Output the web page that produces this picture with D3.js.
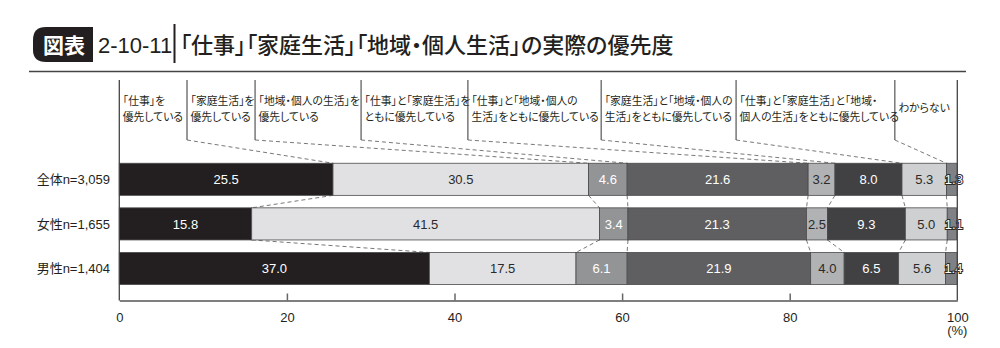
<!DOCTYPE html>
<html>
<head>
<meta charset="utf-8">
<script src="https://cdn.jsdelivr.net/npm/d3@7"></script>
<style>
  body { margin: 0; background: #fff; }
  svg { display: block; font-family: "Liberation Sans", "Noto Sans CJK JP", sans-serif; }
  .jp { font-family: "Noto Sans CJK JP", sans-serif; font-feature-settings: "palt"; }
</style>
</head>
<body>
<svg id="chart" width="1000" height="348"></svg>
<script>
// Respondent groups (rows)
const rows = ["全体n=3,059", "女性n=1,655", "男性n=1,404"];

// Answer categories, stacked left to right
const categories = [
  "「仕事」を優先している",
  "「家庭生活」を優先している",
  "「地域・個人の生活」を優先している",
  "「仕事」と「家庭生活」をともに優先している",
  "「仕事」と「地域・個人の生活」をともに優先している",
  "「家庭生活」と「地域・個人の生活」をともに優先している",
  "「仕事」と「家庭生活」と「地域・個人の生活」をともに優先している",
  "わからない"
];

// Header text, split over lines as printed
const categoryLines = [
  ["「仕事」を", "優先している"],
  ["「家庭生活」を", "優先している"],
  ["「地域・個人の生活」を", "優先している"],
  ["「仕事」と「家庭生活」を", "ともに優先している"],
  ["「仕事」と「地域・個人の", "生活」をともに優先している"],
  ["「家庭生活」と「地域・個人の", "生活」をともに優先している"],
  ["「仕事」と「家庭生活」と「地域・", "個人の生活」をともに優先している"],
  ["わからない"]
];

// Shares (%) per group, in category order
const valuesAll   = [25.5, 30.5, 4.6, 21.6, 3.2, 8.0, 5.3, 1.3];
const valuesWomen = [15.8, 41.5, 3.4, 21.3, 2.5, 9.3, 5.0, 1.1];
const valuesMen   = [37.0, 17.5, 6.1, 21.9, 4.0, 6.5, 5.6, 1.4];

// Axis ticks
const tickValues = [0, 20, 40, 60, 80, 100];

// ---- layout & style ----
const fills = ["#231f20", "#e1e1e3", "#939496", "#5f5f62", "#b1b2b4", "#414143", "#cfd0d2", "#808184"];
const labelStyle = ["white", "dark", "white", "white", "dark", "white", "dark", "outline"];
// left edges of the header boxes, in axis units (%)
const headerEdges = [0, 8.08, 16.2, 28.85, 41.6, 57.5, 73.6, 92.55, 100];

const svg = d3.select("#chart");

const x = d3.scaleLinear().domain([0, 100]).range([119.3, 957.3]);
const y = d3.scaleBand().domain(rows).range([157, 290.8]).paddingInner(0.28).paddingOuter(0.14);

const table = [valuesAll, valuesWomen, valuesMen].map((vals, i) => {
  let acc = 0;
  return {
    row: rows[i],
    segs: vals.map((v, j) => {
      const s = { cat: categories[j], idx: j, v, x0: acc, x1: acc + v };
      acc += v;
      return s;
    })
  };
});

// ---- title ----
const title = svg.append("g");
title.append("path")
  .attr("d", "M93,27 L46,27 Q33,27 33,40 L33,50 Q33,62 46,62 L93,62 Z")
  .attr("fill", "#231f20");
title.append("text").attr("class", "jp")
  .attr("x", 64).attr("y", 53).attr("text-anchor", "middle")
  .attr("fill", "#fff").attr("font-size", 21).attr("font-weight", 700)
  .text("図表");
title.append("text")
  .attr("x", 98).attr("y", 53)
  .attr("font-family", "'Liberation Sans Narrow', 'Liberation Sans', sans-serif")
  .attr("font-size", 22).attr("fill", "#231f20")
  .text("2-10-11");
title.append("line")
  .attr("x1", 174.5).attr("x2", 174.5).attr("y1", 24).attr("y2", 63)
  .attr("stroke", "#231f20").attr("stroke-width", 2);
title.append("text").attr("class", "jp")
  .attr("x", 180).attr("y", 53)
  .attr("font-size", 22).attr("fill", "#231f20").attr("font-weight", 500)
  .text("「仕事」「家庭生活」「地域・個人生活」の実際の優先度");
title.append("line")
  .attr("x1", 29).attr("x2", 966).attr("y1", 71.5).attr("y2", 71.5)
  .attr("stroke", "#444").attr("stroke-width", 1.5);

// ---- header boxes ----
const hdrTop = 80, hdrBottom = 140;
const header = svg.append("g");
header.selectAll("line.sep")
  .data(headerEdges.slice(1, -1))
  .join("line").attr("class", "sep")
  .attr("x1", d => x(d)).attr("x2", d => x(d))
  .attr("y1", hdrTop).attr("y2", hdrBottom)
  .attr("stroke", "#333").attr("stroke-width", 1);

header.selectAll("text.hdr")
  .data(categoryLines)
  .join("text").attr("class", "hdr jp")
  .attr("font-size", 10.8).attr("fill", "#231f20")
  .each(function (lines, i) {
    const t = d3.select(this);
    const x0 = x(headerEdges[i]) + 3.5;
    const baseY = lines.length === 1 ? 112 : 104.5;
    lines.forEach((ln, k) => {
      t.append("tspan").attr("x", x0).attr("y", baseY + k * 16.5).text(ln);
    });
  });

// leader lines from header boxes to the first row
const firstRow = table[0];
header.selectAll("line.leader")
  .data(firstRow.segs.slice(0, -1))
  .join("line").attr("class", "leader")
  .attr("x1", (d, i) => x(headerEdges[i + 1])).attr("y1", hdrBottom)
  .attr("x2", d => x(d.x1)).attr("y2", y(rows[0]))
  .attr("stroke", "#555").attr("stroke-width", 0.8).attr("stroke-dasharray", "4,3");

// connectors between consecutive rows
const conn = svg.append("g");
for (let r = 0; r < table.length - 1; r++) {
  const a = table[r], b = table[r + 1];
  conn.selectAll(null)
    .data(a.segs.slice(0, -1))
    .join("line")
    .attr("x1", d => x(d.x1)).attr("y1", y(a.row) + y.bandwidth())
    .attr("x2", (d, i) => x(b.segs[i].x1)).attr("y2", y(b.row))
    .attr("stroke", "#555").attr("stroke-width", 0.8).attr("stroke-dasharray", "4,3");
}

// ---- bars ----
const rowG = svg.append("g").selectAll("g.row")
  .data(table).join("g").attr("class", "row")
  .attr("transform", d => `translate(0,${y(d.row)})`);

rowG.selectAll("rect")
  .data(d => d.segs)
  .join("rect")
  .attr("x", d => x(d.x0))
  .attr("width", d => x(d.x1) - x(d.x0))
  .attr("y", 0).attr("height", y.bandwidth())
  .attr("fill", d => fills[d.idx])
  .attr("stroke", "#4a4a4c").attr("stroke-width", 0.8);

rowG.selectAll("text.val")
  .data(d => d.segs)
  .join("text").attr("class", "val")
  .attr("x", d => x((d.x0 + d.x1) / 2) + (labelStyle[d.idx] === "outline" ? 2 : 0))
  .attr("y", y.bandwidth() / 2)
  .attr("dy", "0.36em")
  .attr("text-anchor", "middle")
  .attr("font-size", 13)
  .attr("fill", d => labelStyle[d.idx] === "dark" ? "#2a2a2a" : "#fff")
  .attr("stroke", d => labelStyle[d.idx] === "outline" ? "#2a2a2a" : null)
  .attr("stroke-width", d => labelStyle[d.idx] === "outline" ? 2 : null)
  .attr("paint-order", "stroke")
  .text(d => d.v.toFixed(1));

// row labels
svg.append("g").selectAll("text")
  .data(rows).join("text")
  .attr("x", 110).attr("y", d => y(d) + y.bandwidth() / 2)
  .attr("dy", "0.36em").attr("text-anchor", "end")
  .attr("font-size", 13).attr("fill", "#231f20")
  .text(d => d);

// ---- frame & axis ----
const axisY = 300.5;
const frame = svg.append("g");
[0, 100].forEach(v => {
  frame.append("line")
    .attr("x1", x(v)).attr("x2", x(v)).attr("y1", hdrTop).attr("y2", axisY)
    .attr("stroke", "#444").attr("stroke-width", 1.3);
});

const axis = svg.append("g").attr("transform", `translate(0,${axisY})`)
  .call(d3.axisBottom(x).tickValues(tickValues).tickSize(0).tickPadding(12).tickFormat(d3.format("d")));
axis.select(".domain").attr("stroke", "#555").attr("stroke-width", 1.5);
axis.selectAll(".tick text")
  .attr("font-size", 13).attr("fill", "#231f20")
  .attr("font-family", "'Liberation Sans', sans-serif");
axis.selectAll(".tick")
  .filter(d => d > 0 && d < 100)
  .append("line").attr("y1", 0).attr("y2", -7)
  .attr("stroke", "#666").attr("stroke-width", 1.5);

svg.append("text")
  .attr("x", x(100)).attr("y", 335).attr("text-anchor", "middle")
  .attr("font-size", 13).attr("fill", "#231f20")
  .text("(%)");
</script>
</body>
</html>
